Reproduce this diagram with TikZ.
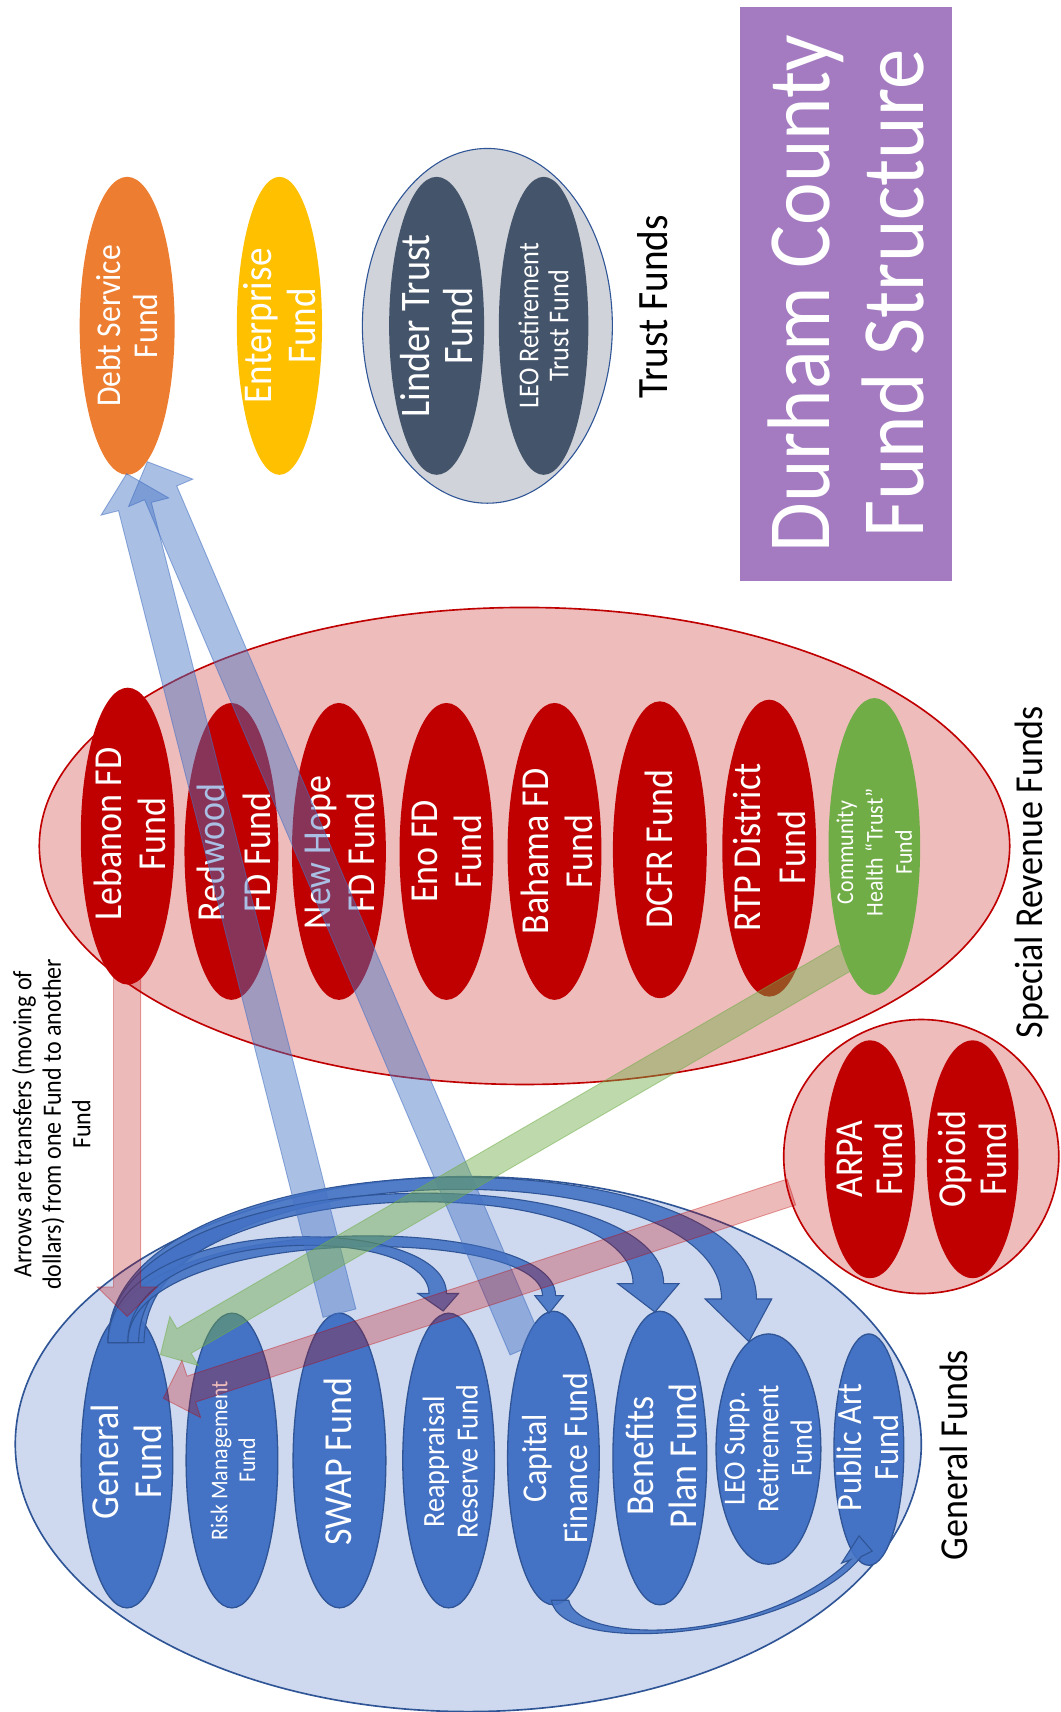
\documentclass[tikz,border=0pt]{standalone}
\usepackage{fontspec}
\setmainfont{Carlito}
\usetikzlibrary{shapes.geometric,calc}
\definecolor{titlepurple}{HTML}{A47BC0}
\definecolor{dsorange}{HTML}{ED7D31}
\definecolor{entyellow}{HTML}{FFC000}
\definecolor{trustdark}{HTML}{44546A}
\definecolor{trustbg}{HTML}{D0D4DA}
\definecolor{fundred}{HTML}{C00000}
\definecolor{srbg}{HTML}{EFBCBC}
\definecolor{fundgreen}{HTML}{70AD47}
\definecolor{fundblue}{HTML}{4472C4}
\definecolor{darkblue}{HTML}{2F5597}
\definecolor{gfbg}{HTML}{CED9EF}
\newcommand\myfs[2]{\fontsize{#1}{#2}\selectfont}
% #1 style, #2 tail, #3 tip, #4 half shaft, #5 half head, #6 head length
\newcommand\blockarrow[6]{%
  \coordinate (ba-h) at ($(#3)!#6!(#2)$);
  \path[#1] ($(#2)!#4!90:(#3)$) -- ($(ba-h)!#4!-90:(#2)$) -- ($(ba-h)!#5!-90:(#2)$) -- (#3)
     -- ($(ba-h)!#5!90:(#2)$) -- ($(ba-h)!#4!90:(#2)$) -- ($(#2)!#4!-90:(#3)$) -- cycle;}
\begin{document}
\begin{tikzpicture}[x=1pt,y=-1pt,
  every node/.style={inner sep=0pt,outer sep=0pt},
  oval/.style={ellipse, draw=none},
  blueoval/.style={ellipse, fill=fundblue, draw=darkblue, line width=1.2pt},
  lbl/.style={rotate=90, yscale=1.1, align=center, text=white},
  blk/.style={rotate=90, yscale=1.1, align=center, text=black},
  bluearrow/.style={fill=fundblue, fill opacity=0.45, draw=fundblue, draw opacity=0.55, line width=0.8pt},
  greenarrow/.style={fill=fundgreen, fill opacity=0.45, draw=fundgreen, draw opacity=0.5, line width=0.8pt},
  pinkarrow/.style={fill=fundred, fill opacity=0.27, draw=fundred, draw opacity=0.35, line width=0.8pt},
  arcarrow/.style={fill=fundblue, fill opacity=0.9, draw=darkblue, line width=1pt}]
\useasboundingbox[fill=white] (0,0) rectangle (972,1568.4);

% title
\node[fill=titlepurple, minimum width=194, minimum height=526, anchor=north west] (titlebox) at (678,6) {};
\node[lbl, font=\myfs{74}{79}] (title) at (titlebox.center) {Durham County\\Fund Structure};

% top funds
\node[oval, fill=dsorange, minimum width=87, minimum height=273] (debt) at (116.5,298.5) {};
\node[lbl, font=\myfs{29}{31}] (debtT) at (debt) {Debt Service\\Fund};
\node[oval, fill=entyellow, minimum width=78, minimum height=273] (ent) at (256,298.5) {};
\node[lbl, font=\myfs{34}{37}] (entT) at (ent) {Enterprise\\Fund};
\node[oval, fill=trustbg, draw=darkblue, line width=1pt, minimum width=229, minimum height=325] (trustgrp) at (446.5,298.5) {};
\node[oval, fill=trustdark, minimum width=87, minimum height=273] (linder) at (400,298.5) {};
\node[lbl, font=\myfs{35}{36}] (linderT) at (linder) {Linder Trust\\Fund};
\node[oval, fill=trustdark, minimum width=82, minimum height=273] (leoret) at (498,298.5) {};
\node[lbl, font=\myfs{24}{25}] (leoretT) at (leoret) {LEO Retirement\\Trust Fund};
\node[blk, font=\myfs{36}{40}] (trustlbl) at (598,281) {Trust Funds};

% special revenue
\node[oval, fill=srbg, draw=fundred, line width=1.5pt, minimum width=889, minimum height=437] (srgrp) at (480.5,775) {};
\node[oval, fill=fundred, minimum width=86, minimum height=272] (leb) at (117,766) {};
\node[oval, fill=fundred, minimum width=86, minimum height=272] (redw) at (212,780) {};
\node[oval, fill=fundred, minimum width=86, minimum height=272] (newh) at (310.5,780) {};
\node[oval, fill=fundred, minimum width=86, minimum height=272] (eno) at (409,780) {};
\node[oval, fill=fundred, minimum width=86, minimum height=272] (bah) at (508,780) {};
\node[oval, fill=fundred, minimum width=86, minimum height=272] (dcfr) at (604.5,778.5) {};
\node[oval, fill=fundred, minimum width=86, minimum height=272] (rtp) at (704.7,777) {};
\node[oval, fill=fundgreen, minimum width=84, minimum height=272] (chf) at (801,775.5) {};
\node[lbl, font=\myfs{33}{37}] (lebT) at (119,764) {Lebanon FD\\Fund};
\node[lbl, font=\myfs{33}{38}] (redwT) at (214.5,781) {Redwood\\FD Fund};
\node[lbl, font=\myfs{33}{37}] (newhT) at (311.5,781) {New Hope\\FD Fund};
\node[lbl, font=\myfs{33}{37}] (enoT) at (409.5,780) {Eno FD\\Fund};
\node[lbl, font=\myfs{33}{37}] (bahT) at (510,780) {Bahama FD\\Fund};
\node[lbl, font=\myfs{33}{37}] (dcfrT) at (604,778) {DCFR Fund};
\node[lbl, font=\myfs{33}{37}] (rtpT) at (705,776.5) {RTP District\\Fund};
\node[lbl, font=\myfs{20}{24.5}] (chfT) at (801,781) {Community\\Health “Trust”\\Fund};

\node[oval, fill=srbg, draw=fundred, line width=1.5pt, minimum width=252, minimum height=251] (arpagrp) at (844,1059.5) {};
\node[oval, fill=fundred, minimum width=83, minimum height=218] (arpa) at (797,1062) {};
\node[oval, fill=fundred, minimum width=84, minimum height=218] (opi) at (891,1062) {};
\node[lbl, font=\myfs{33}{34}] (arpaT) at (arpa) {ARPA\\Fund};
\node[lbl, font=\myfs{33}{34}] (opiT) at (opi) {Opioid\\Fund};
\node[blk, font=\myfs{33}{37}] (srlbl) at (945,799) {Special Revenue Funds};

% general funds
\node[oval, fill=gfbg, draw=darkblue, line width=1.5pt, minimum width=830, minimum height=490] (gfgrp) at (429,1323) {};
\node[blueoval, minimum width=84, minimum height=270] (gf) at (116.3,1338) {};
\node[blueoval, minimum width=84, minimum height=270] (risk) at (212.5,1338) {};
\node[blueoval, minimum width=85, minimum height=270] (swap) at (311,1338) {};
\node[blueoval, minimum width=84, minimum height=270] (reapp) at (411,1338) {};
\node[blueoval, minimum width=84, minimum height=269] (cap) at (507,1335.7) {};
\node[blueoval, minimum width=86, minimum height=269] (ben) at (604.5,1335.7) {};
\node[blueoval, minimum width=96, minimum height=211] (leosupp) at (704,1327.5) {};
\node[blueoval, minimum width=64, minimum height=212] (pubart) at (796,1328) {};
\node[lbl, font=\myfs{33}{36}] (gfT) at (116,1339) {General\\Fund};
\node[lbl, font=\myfs{20}{23}] (riskT) at (213.5,1338) {Risk Management\\Fund};
\node[lbl, font=\myfs{33}{36}] (swapT) at (310,1339) {SWAP Fund};
\node[lbl, font=\myfs{25.7}{28}] (reappT) at (412.5,1339) {Reappraisal\\Reserve Fund};
\node[lbl, font=\myfs{29}{33.6}] (capT) at (508.5,1336) {Capital\\Finance Fund};
\node[lbl, font=\myfs{33}{36.5}] (benT) at (606,1334) {Benefits\\Plan Fund};
\node[lbl, font=\myfs{25.6}{28}] (leosuppT) at (704,1327) {LEO Supp.\\Retirement\\Fund};
\node[lbl, font=\myfs{29.6}{31}] (pubartT) at (795,1326) {Public Art\\Fund};
\node[blk, font=\myfs{33}{37}] (gflbl) at (874,1333) {General Funds};

\node[blk, font=\myfs{22}{24.5}] (note) at (47,1030) {Arrows are transfers (moving of\\dollars) from one Fund to another\\Fund};

% curved transfers inside general funds
\path[arcarrow] (99,1230) .. controls (99,1035.3) and (693,1035.3) .. (693,1190) -- (707,1190) -- (686,1229) -- (646,1190) -- (661,1190) .. controls (661,1050) and (132,1050) .. (132,1230) -- cycle;
\path[arcarrow] (99,1230) .. controls (99,1057.7) and (608,1057.7) .. (608,1176) -- (622,1176) -- (600,1202) -- (566,1176) -- (580,1176) .. controls (580,1068.3) and (127,1068.3) .. (127,1230) -- cycle;
\path[arcarrow] (99,1230) .. controls (99,1107.9) and (509,1107.9) .. (509,1187) -- (516,1187) -- (503,1203) -- (490,1187) -- (497,1187) .. controls (497,1121.2) and (117,1121.2) .. (117,1230) -- cycle;
\path[arcarrow] (99,1230) .. controls (99,1109.5) and (409,1109.5) .. (409,1185) -- (420,1185) -- (406,1201) -- (383,1185) -- (393,1185) .. controls (393,1120.1) and (117,1120.1) .. (117,1230) -- cycle;
\path[arcarrow] (505,1466) .. controls (515,1520) and (730,1500) .. (789,1426) -- (799,1421) -- (787,1407) -- (771,1432) -- (779,1429) .. controls (700,1506) and (530,1508) .. (521,1466) -- cycle;

% straight transfers
\coordinate (swapTop) at (311,1203);
\coordinate (debtIn1) at (116,434);
\coordinate (capTop) at (482,1235);
\coordinate (debtIn2) at (135,423);
\coordinate (lebBot) at (116.5,895);
\coordinate (gfTop) at (116.5,1206);
\coordinate (chfBot) at (775,877);
\coordinate (gfIn) at (147,1241);
\coordinate (arpaL) at (725,1092);
\coordinate (riskIn) at (149.6,1281);
\blockarrow{pinkarrow}{lebBot}{gfTop}{12.5pt}{27.5pt}{27pt}
\blockarrow{bluearrow}{swapTop}{debtIn1}{15.5pt}{32pt}{31pt}
\blockarrow{bluearrow}{capTop}{debtIn2}{16pt}{32pt}{31pt}
\blockarrow{greenarrow}{chfBot}{gfIn}{13pt}{26pt}{25pt}
\blockarrow{pinkarrow}{arpaL}{riskIn}{12.5pt}{27.5pt}{27pt}
\end{tikzpicture}
\end{document}
